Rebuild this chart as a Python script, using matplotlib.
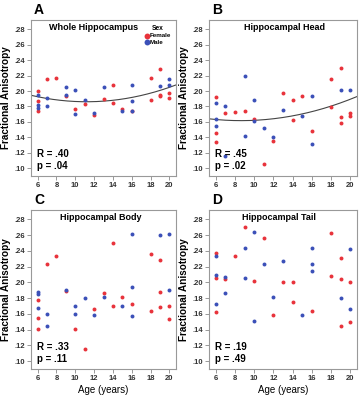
import numpy as np
import matplotlib
matplotlib.use("Agg")
import matplotlib.pyplot as plt

plt.rcParams["font.family"] = ["Liberation Sans", "DejaVu Sans"]

RED = "#e8333b"
BLUE = "#3b50b8"

# (age, FA) per sex
A_female_age = [6, 6, 6, 7, 8, 9, 10, 11, 12, 13, 14, 14, 15, 16, 18, 18, 19, 19, 19, 20, 20]
A_female_fa = [.200, .187, .174, .215, .217, .193, .177, .183, .169, .190, .208, .185, .177, .174, .217, .189, .229, .195, .194, .197, .191]
A_male_age = [6, 6, 6, 7, 7, 9, 9, 10, 10, 11, 12, 13, 15, 16, 16, 16, 19, 20, 20]
A_male_fa = [.195, .182, .178, .191, .181, .205, .195, .201, .170, .188, .171, .205, .174, .208, .187, .174, .206, .215, .208]

B_female_age = [6, 6, 6, 7, 8, 9, 10, 11, 12, 13, 14, 14, 15, 16, 18, 18, 19, 19, 19, 20, 20]
B_female_fa = [.192, .146, .134, .172, .173, .174, .164, .106, .135, .197, .188, .162, .194, .148, .215, .179, .230, .166, .159, .172, .168]
B_male_age = [6, 6, 6, 7, 7, 9, 9, 10, 10, 11, 12, 13, 15, 16, 16, 19, 20]
B_male_fa = [.184, .164, .155, .180, .116, .219, .142, .188, .161, .152, .141, .176, .168, .194, .131, .202, .202]

C_female_age = [6, 6, 6, 7, 8, 9, 10, 11, 12, 13, 14, 14, 15, 16, 18, 18, 19, 19, 19, 20, 20]
C_female_fa = [.178, .155, .141, .223, .234, .189, .141, .116, .166, .186, .250, .170, .181, .173, .236, .164, .228, .188, .169, .170, .153]
C_male_age = [6, 6, 6, 7, 7, 9, 10, 10, 11, 12, 13, 15, 16, 16, 16, 19, 20, 20]
C_male_fa = [.188, .185, .167, .160, .145, .190, .170, .160, .180, .159, .182, .170, .262, .194, .157, .260, .262, .191]

D_female_age = [6, 6, 6, 7, 8, 9, 10, 11, 12, 13, 14, 14, 16, 18, 18, 19, 19, 19, 20, 20]
D_female_fa = [.237, .205, .163, .204, .234, .271, .202, .256, .159, .200, .201, .175, .164, .263, .208, .231, .204, .145, .200, .150]
D_male_age = [6, 6, 6, 7, 7, 9, 9, 10, 10, 11, 12, 13, 15, 16, 16, 16, 19, 20, 20]
D_male_fa = [.233, .209, .173, .207, .186, .244, .206, .264, .151, .224, .182, .227, .159, .244, .223, .215, .180, .243, .166]

panels = [
    ("A", "Whole Hippocampus", A_female_age, A_female_fa, A_male_age, A_male_fa, ".40", ".04", True, 0.43),
    ("B", "Hippocampal Head", B_female_age, B_female_fa, B_male_age, B_male_fa, ".45", ".02", True, 0.51),
    ("C", "Hippocampal Body", C_female_age, C_female_fa, C_male_age, C_male_fa, ".33", ".11", False, 0.48),
    ("D", "Hippocampal Tail", D_female_age, D_female_fa, D_male_age, D_male_fa, ".19", ".49", False, 0.47),
]

# axes boxes in pixels: left, top, right, bottom
W, H = 363, 400
boxes = [(31, 20, 176, 176), (209, 20, 357, 176),
         (31, 210, 176, 369), (209, 210, 357, 369)]

yticks = np.arange(0.10, 0.281, 0.02)
ylabels = ["." + f"{v:.2f}"[2:] for v in yticks]

fig = plt.figure(figsize=(W / 100, H / 100), dpi=100)

for (letter, title, fa_x, fa_y, ma_x, ma_y, r, p, fit, tx), (l, t, rr, b) in zip(panels, boxes):
    ax = fig.add_axes([l / W, 1 - b / H, (rr - l) / W, (b - t) / H])
    ax.scatter(fa_x, fa_y, s=8, color=RED, lw=0, zorder=3, label="Female")
    ax.scatter(ma_x, ma_y, s=8, color=BLUE, lw=0, zorder=3, label="Male")
    if fit:
        xs = np.array(fa_x + ma_x, float)
        ys = np.array(fa_y + ma_y, float)
        c = np.polyfit(xs, ys, 2)
        xx = np.linspace(5.3, 20.7, 200)
        ax.plot(xx, np.polyval(c, xx), color="#444444", lw=0.8, zorder=2)
    ax.set_xlim(5.3, 20.7)
    ax.set_ylim(0.09, 0.292)
    ax.set_xticks(range(6, 21, 2))
    ax.set_yticks(yticks)
    ax.set_yticklabels(ylabels)
    ax.tick_params(labelsize=5.5, length=3, width=0.6, color="#888888", pad=1.5)
    for lab in ax.get_xticklabels() + ax.get_yticklabels():
        lab.set_fontweight("bold")
        lab.set_color("#333333")
    for s in ax.spines.values():
        s.set_color("#999999")
        s.set_linewidth(0.8)
    ax.set_ylabel("Fractional Anisotropy", fontsize=7.2, fontweight="bold", labelpad=2)
    if letter in "CD":
        ax.set_xlabel("Age (years)", fontsize=7, labelpad=2)
    ax.text(tx, 0.95, title, transform=ax.transAxes,
            ha="center", va="center", fontsize=6.5, fontweight="bold")
    ax.text(0.04, 0.14, f"R = {r}", transform=ax.transAxes, fontsize=7, fontweight="bold", va="center")
    ax.text(0.04, 0.065, f"p = {p}", transform=ax.transAxes, fontsize=7, fontweight="bold", va="center")
    ax.text(0.02, 1.02, letter, transform=ax.transAxes, fontsize=10, fontweight="bold",
            ha="left", va="bottom")
    if letter == "A":
        leg = ax.legend(title="Sex", loc="upper right", frameon=False, fontsize=4.5,
                        title_fontsize=4.8, handletextpad=0.1, markerscale=1.5,
                        borderaxespad=0.4, labelspacing=0.15, handlelength=0.8)
        leg.get_title().set_fontweight("bold")
        for t_ in leg.get_texts():
            t_.set_fontweight("bold")

fig.savefig("out.png", dpi=100, facecolor="white")
